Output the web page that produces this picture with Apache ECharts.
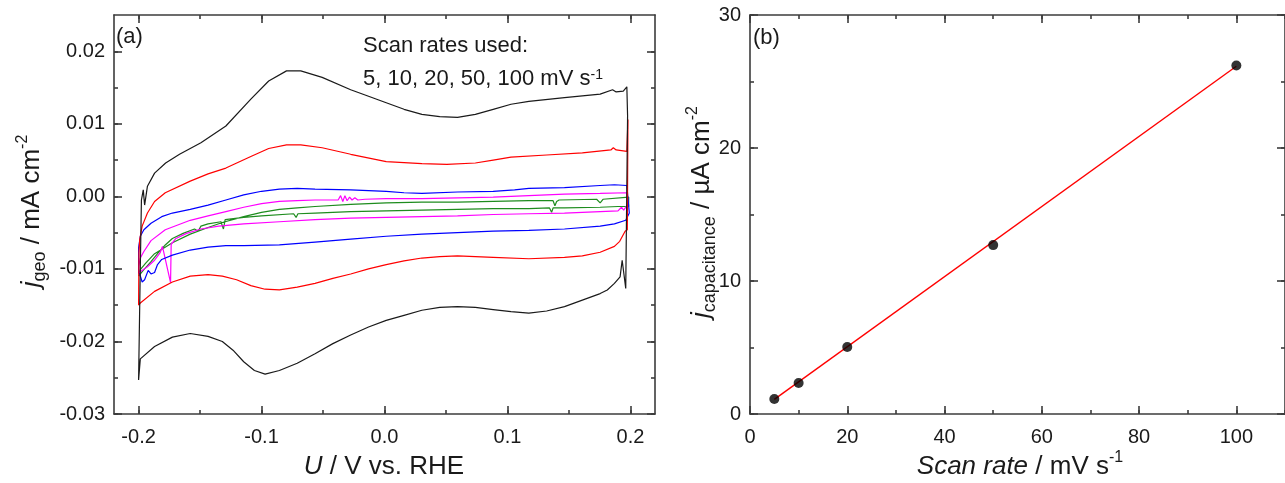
<!DOCTYPE html>
<html>
<head>
<meta charset="utf-8">
<script src="https://cdn.jsdelivr.net/npm/echarts@6/dist/echarts.min.js"></script>
<style>
  html, body { margin: 0; padding: 0; background: #ffffff; }
  #chart { width: 1285px; height: 483px; }
</style>
</head>
<body>
<div id="chart"></div>
<script>
// Cyclic voltammograms in the double-layer region, [U / V vs. RHE, j / mA cm^-2]
// Each loop: anodic sweep from -0.2 V to 0.2 V, then cathodic sweep back.
const cv100 = [
  [-0.2, -0.0253], [-0.1986, -0.0097], [-0.1977, -0.0005], [-0.1962, 0.0009], [-0.1951, -0.0012],
  [-0.1928, 0.0014], [-0.187, 0.0032], [-0.178, 0.0046], [-0.1667, 0.0058], [-0.1493, 0.0074],
  [-0.129, 0.0097], [-0.1087, 0.0134], [-0.0942, 0.0159], [-0.0797, 0.0173], [-0.0681, 0.0173],
  [-0.0507, 0.0164], [-0.0275, 0.0147], [-0.013, 0.0138], [0.0014, 0.0129], [0.0159, 0.012],
  [0.0304, 0.0113], [0.0449, 0.011], [0.0594, 0.0109], [0.0739, 0.0113], [0.0884, 0.012],
  [0.1029, 0.0127], [0.1174, 0.0131], [0.1464, 0.0136], [0.1754, 0.0141], [0.1855, 0.0147],
  [0.1884, 0.0144], [0.1942, 0.0145], [0.1971, 0.0151], [0.1977, 0.0111], [0.1962, -0.0127],
  [0.1933, -0.0088], [0.1916, -0.0111], [0.187, -0.012], [0.1812, -0.0129], [0.1754, -0.0134],
  [0.1609, -0.0143], [0.1464, -0.0152], [0.1319, -0.0158], [0.1174, -0.0161], [0.1029, -0.0159],
  [0.0884, -0.0156], [0.0739, -0.0153], [0.0594, -0.0152], [0.0449, -0.0153], [0.0304, -0.0157],
  [0.0159, -0.0164], [0.0014, -0.0171], [-0.013, -0.018], [-0.0275, -0.0191], [-0.042, -0.0203],
  [-0.0565, -0.0217], [-0.071, -0.023], [-0.0855, -0.024], [-0.0971, -0.0245], [-0.1058, -0.024],
  [-0.1145, -0.0228], [-0.1232, -0.0212], [-0.1319, -0.02], [-0.1435, -0.0193], [-0.158, -0.0189],
  [-0.1725, -0.0194], [-0.187, -0.0207], [-0.1986, -0.0224], [-0.2, -0.0253]
];
const cv50 = [
  [-0.2, -0.015], [-0.1997, -0.0078], [-0.1991, -0.006], [-0.1971, -0.0041], [-0.1928, -0.0023],
  [-0.187, -0.0007], [-0.1783, 0.0005], [-0.158, 0.0021], [-0.1435, 0.0031], [-0.129, 0.0039],
  [-0.1087, 0.0055], [-0.0942, 0.0066], [-0.0797, 0.0071], [-0.0681, 0.0071], [-0.0507, 0.0067],
  [-0.0275, 0.0058], [0.0014, 0.0048], [0.0304, 0.0045], [0.0507, 0.0044], [0.0739, 0.0046],
  [0.0884, 0.005], [0.1029, 0.0054], [0.1319, 0.0057], [0.1609, 0.006], [0.1841, 0.0064],
  [0.1861, 0.0067], [0.1884, 0.0064], [0.1971, 0.0062], [0.198, 0.0106], [0.1975, -0.0046],
  [0.1957, -0.0048], [0.1913, -0.0062], [0.187, -0.0069], [0.1754, -0.0077], [0.1609, -0.0082],
  [0.1464, -0.0084], [0.1174, -0.0086], [0.0884, -0.0084], [0.0594, -0.0082], [0.0449, -0.0083],
  [0.0304, -0.0085], [0.0159, -0.0089], [0.0014, -0.0094], [-0.013, -0.01], [-0.0275, -0.0107],
  [-0.042, -0.0113], [-0.0565, -0.012], [-0.071, -0.0125], [-0.0855, -0.0129], [-0.0971, -0.0128],
  [-0.1087, -0.0123], [-0.1203, -0.0115], [-0.1319, -0.011], [-0.1435, -0.0108], [-0.158, -0.011],
  [-0.1725, -0.0118], [-0.187, -0.0131], [-0.1986, -0.0147], [-0.2, -0.015]
];
const cv20 = [
  [-0.2, -0.0106], [-0.2, -0.0071], [-0.1986, -0.0055], [-0.1957, -0.0046], [-0.1899, -0.0037],
  [-0.1812, -0.0028], [-0.1725, -0.0023], [-0.158, -0.0018], [-0.1435, -0.0012], [-0.129, -0.0005],
  [-0.1145, 0.0002], [-0.1, 0.0007], [-0.0855, 0.001], [-0.071, 0.0011], [-0.0565, 0.001],
  [-0.0275, 0.0009], [0.0014, 0.0007], [0.0159, 0.0005], [0.0304, 0.0004], [0.0594, 0.0006],
  [0.0884, 0.0007], [0.1058, 0.0009], [0.1174, 0.0011], [0.1464, 0.0012], [0.1754, 0.0015],
  [0.187, 0.0016], [0.1971, 0.0015], [0.198, 0.0017], [0.1991, -0.0023], [0.1962, -0.0033],
  [0.187, -0.0038], [0.1754, -0.0041], [0.1464, -0.0045], [0.1174, -0.0047], [0.0884, -0.0048],
  [0.0594, -0.005], [0.0304, -0.0052], [0.0014, -0.0055], [-0.0275, -0.0059], [-0.0565, -0.0063],
  [-0.0855, -0.0067], [-0.1145, -0.0068], [-0.129, -0.0068], [-0.1435, -0.007], [-0.158, -0.0074],
  [-0.1725, -0.0081], [-0.1812, -0.0087], [-0.1846, -0.0094], [-0.187, -0.0105], [-0.1899, -0.0107],
  [-0.1922, -0.0102], [-0.1951, -0.0115], [-0.1971, -0.0118], [-0.1991, -0.0107], [-0.2, -0.0106]
];
const cv10 = [
  [-0.2, -0.0106], [-0.2, -0.0097], [-0.1986, -0.0085], [-0.1957, -0.0076], [-0.1899, -0.0061],
  [-0.1783, -0.0046], [-0.158, -0.0033], [-0.1435, -0.0027], [-0.129, -0.0021], [-0.1145, -0.0015],
  [-0.1, -0.001], [-0.0855, -0.0007], [-0.071, -0.0006], [-0.0565, -0.0005], [-0.0377, -0.0005],
  [-0.0357, 0.0001], [-0.0339, -0.0007], [-0.0322, 0.0001], [-0.0304, -0.0006], [-0.0284, -0.0001],
  [-0.0264, -0.0005], [-0.0241, -0.0002], [-0.0217, -0.0005], [-0.0159, -0.0004], [0.0014, -0.0003],
  [0.0304, -0.0003], [0.0594, -0.0002], [0.0884, -0.0001], [0.1174, 0.0001], [0.1464, 0.0003],
  [0.1754, 0.0004], [0.1971, 0.0005], [0.198, -0.0012], [0.1962, -0.0015], [0.1945, -0.0019],
  [0.1928, -0.0015], [0.1899, -0.002], [0.1754, -0.0021], [0.1464, -0.0023], [0.1174, -0.0024],
  [0.0884, -0.0025], [0.0594, -0.0027], [0.0304, -0.0028], [0.0014, -0.0029], [-0.0275, -0.003],
  [-0.0565, -0.0032], [-0.0855, -0.0035], [-0.1145, -0.0038], [-0.1348, -0.0041], [-0.1493, -0.0045],
  [-0.1609, -0.0051], [-0.1696, -0.0058], [-0.1735, -0.0066], [-0.174, -0.0119], [-0.1806, -0.0069],
  [-0.1826, -0.0078], [-0.187, -0.0088], [-0.1928, -0.0097], [-0.1986, -0.0104], [-0.2, -0.0106]
];
const cv5 = [
  [-0.2, -0.011], [-0.1986, -0.0101], [-0.1942, -0.0092], [-0.187, -0.0079], [-0.1725, -0.0064],
  [-0.158, -0.0052], [-0.1435, -0.0043], [-0.1319, -0.0036], [-0.1145, -0.0028], [-0.1, -0.0022],
  [-0.0855, -0.0018], [-0.071, -0.0016], [-0.0565, -0.0014], [-0.0275, -0.0011], [0.0014, -0.0009],
  [0.0304, -0.0008], [0.0594, -0.0008], [0.0884, -0.0007], [0.1174, -0.0006], [0.1371, -0.0006],
  [0.1386, -0.0013], [0.14, -0.0007], [0.142, -0.0005], [0.1725, -0.0004], [0.1754, -0.0009],
  [0.1777, -0.0004], [0.1986, -0.0001], [0.1986, -0.0014], [0.1899, -0.0014], [0.1754, -0.0015],
  [0.1464, -0.0016], [0.1371, -0.0016], [0.1359, -0.0022], [0.1342, -0.0016], [0.1174, -0.0017],
  [0.0884, -0.0017], [0.0594, -0.0018], [0.0304, -0.0019], [0.0014, -0.002], [-0.0275, -0.0021],
  [-0.0565, -0.0023], [-0.0704, -0.0024], [-0.0719, -0.0029], [-0.0739, -0.0024], [-0.1, -0.0027],
  [-0.1145, -0.0029], [-0.1296, -0.0032], [-0.131, -0.0045], [-0.133, -0.0035], [-0.1435, -0.0038],
  [-0.1493, -0.0041], [-0.1516, -0.0048], [-0.1545, -0.0045], [-0.1638, -0.0051], [-0.1725, -0.0058],
  [-0.1783, -0.0067], [-0.1841, -0.0078], [-0.1899, -0.009], [-0.1957, -0.0101], [-0.2, -0.011]
];

// Capacitive current density vs. scan rate
const scanRates = [5, 10, 20, 50, 100];           // mV s^-1
const jCapacitance = [1.13, 2.33, 5.04, 12.7, 26.2]; // µA cm^-2
const fitRates = [5, 100];
const fitValues = [1.1, 26.15];

// Tick positions
const cvXMajor = [-0.2, -0.1, 0.0, 0.1, 0.2];
const cvXMinor = [-0.2, -0.15, -0.1, -0.05, 0.0, 0.05, 0.1, 0.15, 0.2];
const cvYMajor = [-0.03, -0.02, -0.01, 0.0, 0.01, 0.02];
const cvYMinor = [-0.03, -0.025, -0.02, -0.015, -0.01, -0.005, 0.0, 0.005, 0.01, 0.015, 0.02];
const rateXMajor = [0, 20, 40, 60, 80, 100];
const rateXMinor = [0, 10, 20, 30, 40, 50, 60, 70, 80, 90, 100, 110];
const capYMajor = [0, 10, 20, 30];
const capYMinor = [0, 5, 10, 15, 20, 25, 30];

const FONT = "'Liberation Sans', Arial, sans-serif";
const AXIS_COLOR = '#3c3c3c';
const TEXT_COLOR = '#1a1a1a';

function axisGroup(dim, gridIndex, min, max, majors, minors, fmt) {
  const isX = dim === 'x';
  const near = isX ? 'bottom' : 'left';
  const far = isX ? 'top' : 'right';
  const lineStyle = { color: AXIS_COLOR, width: 1.6 };
  const base = {
    type: 'value', gridIndex: gridIndex, min: min, max: max,
    splitLine: { show: false }, axisPointer: { show: false }
  };
  return [
    Object.assign({}, base, {
      position: near,
      axisLine: { show: true, onZero: false, lineStyle: lineStyle },
      axisTick: { show: true, inside: true, length: 8, customValues: majors, lineStyle: lineStyle },
      axisLabel: {
        show: true, customValues: majors, formatter: fmt, margin: isX ? 13 : 9,
        fontFamily: FONT, fontSize: 20, color: TEXT_COLOR
      }
    }),
    Object.assign({}, base, {
      position: near,
      axisLine: { show: false, onZero: false },
      axisTick: { show: true, inside: true, length: 4, customValues: minors, lineStyle: lineStyle },
      axisLabel: { show: false }
    }),
    Object.assign({}, base, {
      position: far,
      axisLine: { show: true, onZero: false, lineStyle: lineStyle },
      axisTick: { show: true, inside: true, length: 8, customValues: majors, lineStyle: lineStyle },
      axisLabel: { show: false }
    }),
    Object.assign({}, base, {
      position: far,
      axisLine: { show: false, onZero: false },
      axisTick: { show: true, inside: true, length: 4, customValues: minors, lineStyle: lineStyle },
      axisLabel: { show: false }
    })
  ];
}

const xAxes = []
  .concat(axisGroup('x', 0, -0.22, 0.22, cvXMajor, cvXMinor, v => v.toFixed(1)))
  .concat(axisGroup('x', 1, 0, 110, rateXMajor, rateXMinor, v => String(v)));
const yAxes = []
  .concat(axisGroup('y', 0, -0.03, 0.025, cvYMajor, cvYMinor, v => v.toFixed(2)))
  .concat(axisGroup('y', 1, 0, 30, capYMajor, capYMinor, v => String(v)));

function cvSeries(data, color) {
  return {
    type: 'line', xAxisIndex: 0, yAxisIndex: 0, data: data,
    showSymbol: false, symbol: 'none', smooth: false,
    lineStyle: { color: color, width: 1.2 }, emphasis: { disabled: true }
  };
}

const rich = {
  i: { fontStyle: 'italic', fontSize: 26, fontFamily: FONT, lineHeight: 34 },
  sub: { fontSize: 18, fontFamily: FONT, verticalAlign: 'bottom', lineHeight: 18 },
  sup: { fontSize: 16, fontFamily: FONT, verticalAlign: 'top', lineHeight: 16 }
};
const richSmall = {
  sup: { fontSize: 14, fontFamily: FONT, verticalAlign: 'top', lineHeight: 14 }
};

function label(x, y, text, opts) {
  return {
    type: 'text', x: x, y: y, silent: true,
    style: Object.assign({
      text: text, fontFamily: FONT, fontSize: 22, fill: TEXT_COLOR,
      align: 'left', verticalAlign: 'middle'
    }, opts || {})
  };
}

const option = {
  animation: false,
  backgroundColor: '#ffffff',
  grid: [
    { left: 114, top: 15, width: 541, height: 399 },
    { left: 750, top: 15, width: 541, height: 399 }
  ],
  xAxis: xAxes,
  yAxis: yAxes,
  series: [
    cvSeries(cv5, '#1e8c1e'),
    cvSeries(cv10, '#ff00ff'),
    cvSeries(cv20, '#0000ff'),
    cvSeries(cv50, '#ff0000'),
    cvSeries(cv100, '#1a1a1a'),
    {
      type: 'line', xAxisIndex: 4, yAxisIndex: 4,
      data: fitRates.map((r, i) => [r, fitValues[i]]),
      showSymbol: false, symbol: 'none',
      lineStyle: { color: '#ff0000', width: 1.4 }, emphasis: { disabled: true }
    },
    {
      type: 'scatter', xAxisIndex: 4, yAxisIndex: 4,
      data: scanRates.map((r, i) => [r, jCapacitance[i]]),
      symbol: 'circle', symbolSize: 10,
      itemStyle: { color: '#000000' }, emphasis: { disabled: true }, z: 5
    }
  ],
  graphic: [
    label(116, 37, '(a)'),
    label(363, 46, 'Scan rates used:', { fontSize: 22 }),
    label(363, 79, '5, 10, 20, 50, 100 mV s{sup|-1}', { fontSize: 22, rich: richSmall }),
    label(753, 38, '(b)'),
    label(384, 467, '{i|U} / V vs. RHE', { fontSize: 26, align: 'center', rich: rich }),
    label(1020, 467, '{i|Scan rate} / mV s{sup|-1}', { fontSize: 26, align: 'center', rich: rich }),
    Object.assign(label(0, 0, '{i|j}{sub|geo} / mA cm{sup|-2}', { fontSize: 26, align: 'center', rich: rich }),
      { x: 32, y: 211, rotation: Math.PI / 2 }),
    Object.assign(label(0, 0, '{i|j}{sub|capacitance} / µA cm{sup|-2}', { fontSize: 26, align: 'center', rich: rich }),
      { x: 702, y: 212, rotation: Math.PI / 2 })
  ]
};

const chart = echarts.init(document.getElementById('chart'), null, { renderer: 'canvas' });
chart.setOption(option);
</script>
</body>
</html>
